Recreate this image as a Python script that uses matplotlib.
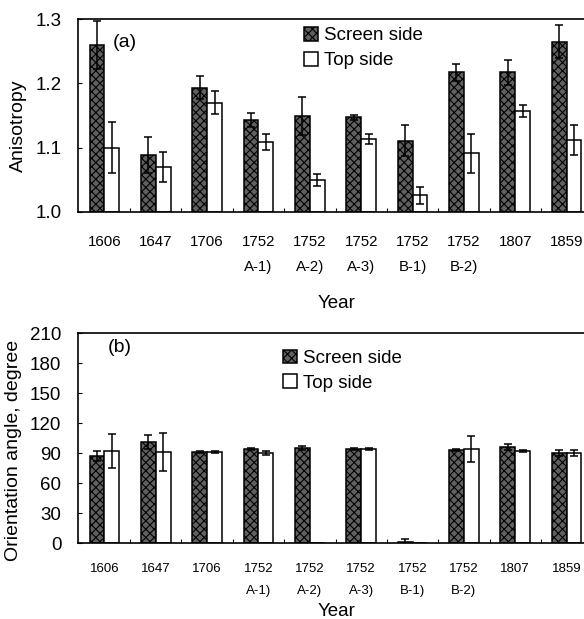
import numpy as np
import matplotlib.pyplot as plt

years = ['1606', '1647', '1706', '1752\nA-1)', '1752\nA-2)', '1752\nA-3)',
         '1752\nB-1)', '1752\nB-2)', '1807', '1859']

# (a) anisotropy
aniso_screen = [1.26, 1.088, 1.193, 1.143, 1.149, 1.147, 1.111, 1.217, 1.217, 1.265]
aniso_screen_err = [0.037, 0.028, 0.018, 0.011, 0.03, 0.004, 0.024, 0.013, 0.019, 0.026]
aniso_top = [1.10, 1.07, 1.17, 1.109, 1.05, 1.114, 1.026, 1.091, 1.157, 1.112]
aniso_top_err = [0.04, 0.024, 0.018, 0.013, 0.009, 0.008, 0.013, 0.03, 0.01, 0.023]

# (b) orientation angle
angle_screen = [87, 101, 91, 94, 95, 94, 1, 93, 96, 90]
angle_screen_err = [5, 7, 1, 1, 2, 1, 3, 1, 3, 3]
angle_top = [92, 91, 91, 90, 0, 94, 0, 94, 92, 90]
angle_top_err = [17, 19, 1, 2, 0, 1, 0, 13, 1, 3]

plt.rcParams['font.family'] = ['Liberation Sans', 'DejaVu Sans']
plt.rcParams['hatch.linewidth'] = 0.8

W, H = 584, 619
fig = plt.figure(figsize=(W / 100, H / 100), dpi=100)

x = np.arange(len(years))
bw = 0.29
x0 = -0.516
x1 = 9.516
ax_w = 515 / W


def panel(ax, screen, serr, top, terr, ylim, yticks, yfmt, tag, tagpos, legpos,
          xsize, xpad, xls):
    ax.bar(x - bw / 2, np.array(screen) - ylim[0], bw, bottom=ylim[0],
           facecolor='#606060', edgecolor='black', hatch='xxxx', lw=1.1,
           label='Screen side', zorder=2)
    ax.bar(x + bw / 2, np.array(top) - ylim[0], bw, bottom=ylim[0],
           facecolor='white', edgecolor='black', lw=1.1,
           label='Top side', zorder=2)
    for i in range(len(x)):
        if serr[i] > 0:
            ax.errorbar(x[i] - bw / 2, screen[i], yerr=serr[i], fmt='none',
                        ecolor='black', elinewidth=1.1, capsize=2.8, capthick=1.1, zorder=3)
        if terr[i] > 0:
            ax.errorbar(x[i] + bw / 2, top[i], yerr=terr[i], fmt='none',
                        ecolor='black', elinewidth=1.1, capsize=2.8, capthick=1.1, zorder=3)
    ax.set_xlim(x0, x1)
    ax.set_ylim(*ylim)
    ax.set_yticks(yticks)
    ax.set_yticklabels([yfmt.format(v) for v in yticks], fontsize=13.5)
    ax.set_xticks(x)
    ax.set_xticklabels(years, fontsize=xsize)
    for lab in ax.get_xticklabels():
        lab.set_linespacing(xls)
    ax.set_xticks(x[:-1] + 0.5, minor=True)
    ax.tick_params(axis='x', which='major', length=0, pad=xpad)
    ax.tick_params(axis='x', which='minor', direction='in', length=3, width=0.8)
    ax.tick_params(axis='y', direction='in', length=3, width=0.8, pad=12)
    ax.spines['right'].set_visible(False)
    for s in ['left', 'top', 'bottom']:
        ax.spines[s].set_linewidth(1.2)
    ax.text(tagpos[0], tagpos[1], tag, transform=ax.transAxes, fontsize=14,
            ha='center', va='center')
    ax.legend(loc='upper left', bbox_to_anchor=legpos, frameon=False,
              fontsize=13.5, handlelength=0.75, handleheight=0.75,
              handletextpad=0.3, labelspacing=0.4, borderpad=0, borderaxespad=0)


ax1 = fig.add_axes([78 / W, 1 - 212 / H, ax_w, 193 / H])
panel(ax1, aniso_screen, aniso_screen_err, aniso_top, aniso_top_err,
      (1.0, 1.3), [1.0, 1.1, 1.2, 1.3], '{:.1f}', '(a)', (0.091, 0.876),
      (0.439, 0.959), 10.8, 16.5, 2.0)

ax2 = fig.add_axes([78 / W, 1 - 543 / H, ax_w, 210 / H])
panel(ax2, angle_screen, angle_screen_err, angle_top, angle_top_err,
      (0, 210), list(range(0, 211, 30)), '{:d}', '(b)', (0.082, 0.929),
      (0.398, 0.921), 9.5, 14.5, 2.1)

fig.text(18 / W, 1 - 126 / H, 'Anisotropy', rotation=90, ha='center', va='center', fontsize=14)
fig.text(13.5 / W, 1 - 450 / H, 'Orientation angle, degree', rotation=90,
         ha='center', va='center', fontsize=14)
fig.text(337 / W, 1 - 304 / H, 'Year', ha='center', va='center', fontsize=13.5)
fig.text(337 / W, 1 - 612 / H, 'Year', ha='center', va='center', fontsize=13.5)

fig.savefig('out.png', dpi=100)
